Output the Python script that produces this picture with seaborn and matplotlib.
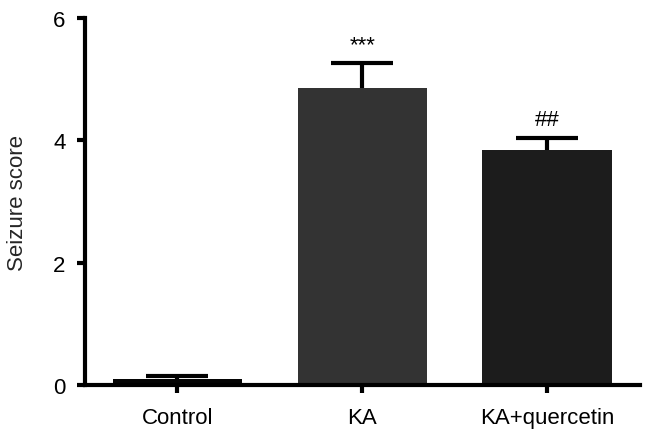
import numpy as np
import pandas as pd
import matplotlib
matplotlib.use("Agg")
import matplotlib.pyplot as plt
import seaborn as sns

# data
groups = ["Control", "KA", "KA+quercetin"]
means = [0.10, 4.86, 3.85]
sems = [0.04, 0.40, 0.19]
marks = ["", "***", "##"]
colors = ["#050505", "#333333", "#1c1c1c"]

df = pd.DataFrame({"group": groups, "score": means})

sns.set_style("ticks")
plt.rcParams["font.family"] = ["Liberation Sans", "DejaVu Sans"]

fig = plt.figure(figsize=(6.46, 4.39), dpi=100)
ax = fig.add_axes([0.1316, 0.1207, 0.8584, 0.836])

sns.barplot(data=df, x="group", y="score", hue="group", palette=colors,
            legend=False, errorbar=None, width=0.7, saturation=1,
            linewidth=0, ax=ax)

# upper error bars only (SEM)
x = np.arange(len(groups))
eb = ax.errorbar(x, means, yerr=[np.zeros(len(sems)), sems], fmt="none",
                 ecolor="black", elinewidth=3, capsize=22, capthick=3, zorder=1)
eb[1][0].remove()  # drop the lower caps

for i, (m, s, t) in enumerate(zip(means, sems, marks)):
    if t:
        ax.annotate(t, (i, m + s), xytext=(0, 6), textcoords="offset points",
                    ha="center", va="bottom", fontsize=16, color="black")

ax.set_xlim(-0.5, 2.5)
ax.set_ylim(0, 6)
ax.set_yticks([0, 2, 4, 6])
ax.set_xlabel("")
ax.set_ylabel("Seizure score", fontsize=16, labelpad=18)
ax.tick_params(axis="both", labelsize=16, width=3, length=6, color="black",
               labelcolor="black")
ax.tick_params(axis="y", pad=8)
ax.tick_params(axis="x", pad=10)
for side in ["left", "bottom"]:
    ax.spines[side].set_linewidth(3)
    ax.spines[side].set_color("black")
sns.despine(ax=ax)

fig.savefig("out.png", dpi=100)
